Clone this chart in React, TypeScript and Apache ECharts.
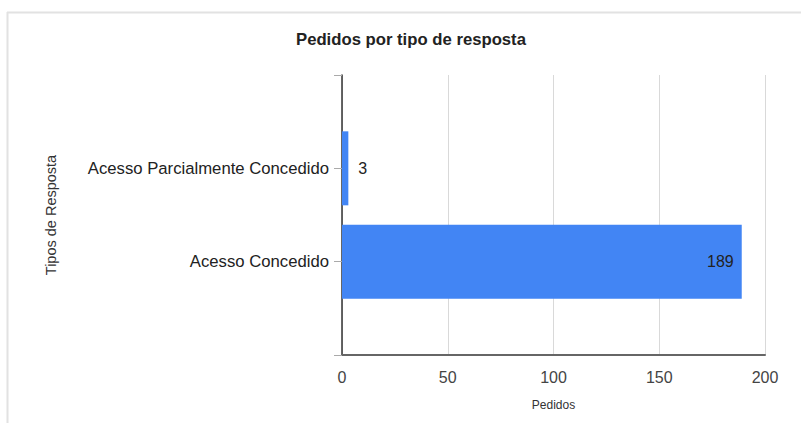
import React, { useEffect, useRef } from "react";
import * as echarts from "echarts";

// Response types and the number of requests for each
const categories = ["Acesso Parcialmente Concedido", "Acesso Concedido"];
const values = [3, 189];
const xTicks = [0, 50, 100, 150, 200];

const chartTitle = "Pedidos por tipo de resposta";
const xName = "Pedidos";
const yName = "Tipos de Resposta";

const FONT = "'Liberation Sans', Arial, Helvetica, sans-serif";

export default function App() {
  const ref = useRef<HTMLDivElement>(null);

  useEffect(() => {
    if (!ref.current) return;
    const chart = echarts.init(ref.current, null, { renderer: "svg" });

    // Empty slots at both ends leave a gap above and below the bars
    const axisData = ["", ...categories, ""];
    const seriesData = [null, ...values, null].map((v) =>
      // Long bars carry their value inside, near the end
      v !== null && v > 20
        ? { value: v, label: { position: "insideRight", distance: 8 } }
        : v
    );

    chart.setOption({
      animation: false,
      backgroundColor: "#ffffff",
      title: {
        text: chartTitle,
        left: 291,
        top: 26,
        textStyle: {
          fontFamily: FONT,
          fontSize: 16.7,
          fontWeight: "bold",
          color: "#222222",
        },
      },
      grid: {
        left: 342,
        right: 36,
        top: 75,
        bottom: 68,
        containLabel: false,
      },
      xAxis: {
        type: "value",
        min: xTicks[0],
        max: xTicks[xTicks.length - 1],
        interval: xTicks[1] - xTicks[0],
        name: xName,
        nameLocation: "middle",
        nameGap: 44,
        nameTextStyle: { fontFamily: FONT, fontSize: 12, color: "#333333" },
        axisLine: { show: true, lineStyle: { color: "#666666", width: 2 } },
        axisTick: { show: false },
        axisLabel: {
          fontFamily: FONT,
          fontSize: 16,
          color: "#444444",
          margin: 14,
        },
        splitLine: { show: true, lineStyle: { color: "#d9d9d9", width: 1 } },
      },
      yAxis: {
        type: "category",
        data: axisData,
        inverse: true,
        boundaryGap: false,
        name: yName,
        nameLocation: "middle",
        nameGap: 284,
        nameRotate: 90,
        nameTextStyle: { fontFamily: FONT, fontSize: 14.5, color: "#333333" },
        axisLine: { show: true, lineStyle: { color: "#333333", width: 1.5 } },
        axisTick: {
          show: true,
          alignWithLabel: true,
          length: 8,
          lineStyle: { color: "#aaaaaa" },
        },
        axisLabel: {
          fontFamily: FONT,
          fontSize: 16.7,
          color: "#222222",
          margin: 13,
        },
        splitLine: { show: false },
      },
      series: [
        {
          type: "bar",
          data: seriesData,
          barWidth: 74,
          itemStyle: { color: "#4285f4" },
          label: {
            show: true,
            fontFamily: FONT,
            fontSize: 16,
            color: "#222222",
            position: "right",
            distance: 10,
          },
        },
      ],
      graphic: [
        // Light frame around the chart area
        {
          type: "line",
          shape: { x1: 7, y1: 12.5, x2: 801, y2: 12.5 },
          style: { stroke: "#e2e2e2", lineWidth: 2 },
          silent: true,
        },
        {
          type: "line",
          shape: { x1: 7.5, y1: 12, x2: 7.5, y2: 423 },
          style: { stroke: "#e2e2e2", lineWidth: 2 },
          silent: true,
        },
      ],
    });

    return () => chart.dispose();
  }, []);

  return (
    <div
      ref={ref}
      style={{
        position: "fixed",
        left: 0,
        top: 0,
        width: 801,
        height: 423,
        background: "#ffffff",
      }}
    />
  );
}
